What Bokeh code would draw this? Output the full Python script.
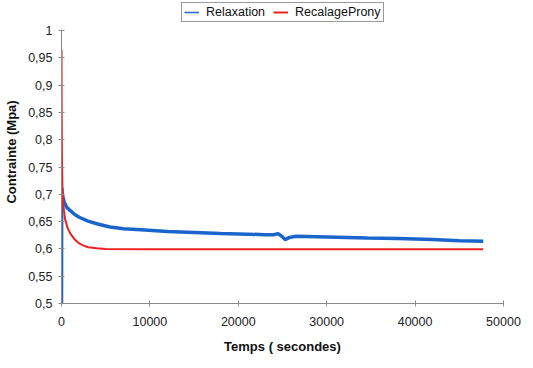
from bokeh.plotting import figure
from bokeh.models import Range1d, FixedTicker, Legend, LegendItem
from bokeh.embed import file_html
from bokeh.resources import INLINE

# Measured relaxation (stress vs time)
relax_t = [0, 0, 20, 100, 300, 600, 1000, 1500, 2000, 3000, 4000, 5000, 5500,
           7000, 9000, 12000, 15000, 18000, 21000, 23000, 24000, 24500, 25000,
           25300, 25800, 26500, 30000, 34600, 38000, 42000, 45000, 47700]
relax_s = [0.50, 0.50, 0.712, 0.700, 0.686, 0.676, 0.670, 0.663, 0.658, 0.651,
           0.646, 0.642, 0.640, 0.637, 0.635, 0.632, 0.630, 0.628, 0.627, 0.626,
           0.626, 0.628, 0.622, 0.617, 0.621, 0.623, 0.622, 0.620, 0.619, 0.617,
           0.615, 0.614]

# Prony series fit
prony_t = [0, 20, 50, 100, 200, 400, 700, 1000, 1500, 2000, 2500, 3000, 4000,
           5000, 10000, 20000, 30000, 40000, 47700]
prony_s = [0.965, 0.850, 0.770, 0.715, 0.680, 0.655, 0.638, 0.628, 0.617, 0.610,
           0.606, 0.603, 0.601, 0.600, 0.5995, 0.5995, 0.5995, 0.5995, 0.5995]

y_ticks = [0.5, 0.55, 0.6, 0.65, 0.7, 0.75, 0.8, 0.85, 0.9, 0.95, 1.0]
y_tick_labels = ["0,5", "0,55", "0,6", "0,65", "0,7", "0,75", "0,8", "0,85",
                 "0,9", "0,95", "1"]
x_ticks = [0, 10000, 20000, 30000, 40000, 50000]
x_tick_labels = ["0", "10000", "20000", "30000", "40000", "50000"]

FONT = "Liberation Sans"
AXIS_GREY = "#8c8c8c"
BLUE = "#1a66cc"
RED = "#ee2020"

# the frame reaches the top edge so the legend can sit above the y=1 line;
# the axis itself is bounded to 0.5..1
Y_TOP = 1.0 + 30 / 546

p = figure(width=533, height=368, output_backend="svg", toolbar_location=None,
           x_range=Range1d(0, 50000), y_range=Range1d(0.5, Y_TOP),
           min_border_left=61, min_border_right=30, min_border_top=0,
           min_border_bottom=65)
p.outline_line_color = None
p.xgrid.visible = False
p.ygrid.visible = False
p.background_fill_color = "white"
p.border_fill_color = "white"

# thick band for the noisy measurement, thin strokes used as legend keys
p.line(relax_t, relax_s, line_color=BLUE, line_width=3.5)
blue = p.line(relax_t, relax_s, line_color=BLUE, line_width=1.5)
red = p.line(prony_t, prony_s, line_color=RED, line_width=2)

for ax in (p.xaxis[0], p.yaxis[0]):
    ax.axis_line_color = AXIS_GREY
    ax.major_tick_line_color = AXIS_GREY
    ax.minor_tick_line_color = None
    ax.major_tick_in = 3
    ax.major_tick_out = 3
    ax.major_label_text_font = FONT
    ax.major_label_text_font_size = "12.5px"
    ax.major_label_text_color = "#222222"
    ax.axis_label_text_font = FONT
    ax.axis_label_text_font_size = "13px"
    ax.axis_label_text_font_style = "bold"
    ax.axis_label_text_color = "#111111"

p.yaxis.bounds = (0.5, 1.0)
p.yaxis.ticker = FixedTicker(ticks=y_ticks)
p.yaxis.major_label_overrides = dict(zip(y_ticks, y_tick_labels))
p.yaxis.axis_label = "Contrainte (Mpa)"
p.yaxis.major_label_standoff = 6
p.yaxis.axis_label_standoff = 6

p.xaxis.ticker = FixedTicker(ticks=x_ticks)
p.xaxis.major_label_overrides = dict(zip(x_ticks, x_tick_labels))
p.xaxis.axis_label = "Temps ( secondes)"
p.xaxis.major_label_standoff = 10
p.xaxis.axis_label_standoff = 10

legend = Legend(items=[LegendItem(label="Relaxation", renderers=[blue]),
                       LegendItem(label="RecalageProny", renderers=[red])],
                orientation="horizontal", location=(120, 281))
legend.label_text_font = FONT
legend.label_text_font_size = "12.5px"
legend.label_text_color = "#111111"
legend.label_height = 12
legend.glyph_height = 12
legend.glyph_width = 15
legend.label_standoff = 7
legend.spacing = 8
legend.padding = 2
legend.margin = 0
legend.border_line_color = "#333333"
legend.border_line_width = 1
legend.background_fill_color = "white"
legend.background_fill_alpha = 1
p.add_layout(legend, "center")

open("out.html", "w").write(file_html(p, INLINE))
